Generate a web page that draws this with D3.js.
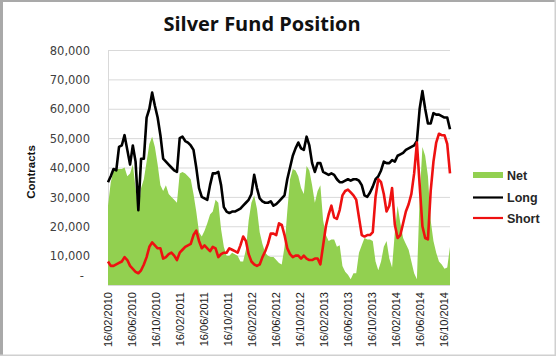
<!DOCTYPE html>
<html><head><meta charset="utf-8">
<script src="https://cdn.jsdelivr.net/npm/d3@7"></script>
<style>html,body{margin:0;padding:0;background:#fff}svg{display:block}</style>
</head><body>
<svg id="c" width="556" height="356"></svg>
<script>
// ---- data (values in thousands of contracts), biweekly from 16/02/2010 ----
const startDate = "16/02/2010";
const endDate = "18/11/2014";
const stepDays = 14;
const net = [27,35,39,39.5,39.5,39.5,40,37,38,41, 33,26,33,36,42,48,50.5,47,41,34,
 32,34,31,30,29,28,38,38.5,38,37, 36,31,25,18,16.5,18.5,21,24,25,29,
 28,19,13,10,10,11,10.5,10,8,8, 12,22,28,30.5,26,18,14,11,10,9.5,
 9.5,8.5,7.5,7,13,25,36,39.5,39,37, 33,31,40.5,39,34,28,32,34,22,17,
 15,15.5,15.5,13,13.5,6.5,4.5,3.5,2,4, 4,11,13.5,16,15.5,15.5,15,8,5,8,
 13,15,9,6,18,27,21,16,14,12, 8,4,2,30,47,44,37,22,15,11, 8,7,5.5,6,13];
const long = [35,37,39.5,39,47,47.5,51,46,41,47.5, 42,25.5,43,43,57,60,65.5,61,57,51,
 43,42,41,40,39,38.5,50,50.5,49,48.5, 47.5,46,40,33,30,29.5,29,34,38,38,
 38.5,34,26.5,25,24.5,25,25,25.5,26,27, 28,29,31,37.5,33,29.5,28.5,28,28,28.5,
 27,27.5,28.5,29.5,30.5,36,40,44,46.5,48.5, 46.5,46,50.5,47.5,41.5,38.5,41.5,41.5,38.5,38,
 37.5,38,37.5,36,35,35,35.5,36,35.5,36, 36,35.5,34,30.5,30,31.5,33.5,36,37,39,
 42,41.5,41.5,42.5,42,44,44.5,45,46,46.5, 47,47.5,49,60,66,60,55,55,58.5,58, 58,57.5,57,57,53];
const short = [8,6.5,6.5,7,7.5,8,9.5,8.5,6.5,5.5, 4.5,4,5,7,9.5,13,14.5,13.5,12.5,12.5,
 9,9.5,10.5,11,10,8.5,11,12,13,13.5, 14,17,18.5,15,12.5,13.5,12.5,11.5,13,12.5,
 9.5,10.5,11,11,12.5,12,11.5,11,13.5,16.5, 15,10.5,8,7,6.5,7,9.5,11.5,14,17.5,
 17.5,17,21,20.5,17,12.5,10.5,9.5,10,10, 9,10,9,8.5,8.5,9,9,7,13.5,20,
 24,27,23,22.5,25.5,30.5,32,32.5,31.5,30.5, 29,23,17,16.5,17,17,18,30,36,35,
 31,25,27,33,20.5,16,17,21,25,27.5, 31,38,48.5,34,20,16,15.5,32,42,48.5, 51.5,51,51,48,38];
const yTicks = [0,10,20,30,40,50,60,70,80];
const xTickLabels = ["16/02/2010","16/06/2010","16/10/2010","16/02/2011","16/06/2011","16/10/2011",
 "16/02/2012","16/06/2012","16/10/2012","16/02/2013","16/06/2013","16/10/2013","16/02/2014","16/06/2014","16/10/2014"];
const seriesNames = ["Net","Long","Short"];
const colors = {Net:"#92D050", Long:"#000000", Short:"#EE1111"};
const title = "Silver Fund Position";
const yTitle = "Contracts";

// ---- build ----
const parse = d3.timeParse("%d/%m/%Y");
const t0 = parse(startDate);
const dates = net.map((_, i) => d3.timeDay.offset(t0, i * stepDays));
const svg = d3.select("#c");

// frame
svg.append("rect").attr("x",0).attr("y",0).attr("width",556).attr("height",356).attr("fill","#fff");
svg.append("rect").attr("x",0).attr("y",0).attr("width",556).attr("height",2).attr("fill","#a9a9a9");
svg.append("rect").attr("x",0).attr("y",0).attr("width",3).attr("height",356).attr("fill","#a9a9a9");
svg.append("rect").attr("x",0).attr("y",354.5).attr("width",556).attr("height",1.5).attr("fill","#d0d0d0");
svg.append("rect").attr("x",554.5).attr("y",0).attr("width",1.5).attr("height",356).attr("fill","#d0d0d0");

const L = 108, R = 450, T = 50, B = 285;
const x = d3.scaleTime().domain([t0, parse(endDate)]).range([L, R]);
const y = d3.scaleLinear().domain([0, 80]).range([B, T]);

// gridlines
svg.append("g").selectAll("line").data(yTicks.filter(d => d > 0)).join("line")
  .attr("x1", L).attr("x2", R).attr("y1", d => y(d) + 0.5).attr("y2", d => y(d) + 0.5)
  .attr("stroke", "#d9d9d9").attr("stroke-width", 1);
svg.append("line").attr("x1", L + 0.5).attr("x2", L + 0.5).attr("y1", T).attr("y2", B)
  .attr("stroke", "#d9d9d9");
svg.append("line").attr("x1", L).attr("x2", R).attr("y1", B + 0.5).attr("y2", B + 0.5)
  .attr("stroke", "#d9d9d9");

// area
const area = d3.area().x((d, i) => x(dates[i])).y0(y(0)).y1(d => y(d));
svg.append("path").datum(net).attr("d", area).attr("fill", colors.Net);

// lines
const line = d3.line().x((d, i) => x(dates[i])).y(d => y(d)).curve(d3.curveLinear);
svg.append("path").datum(long).attr("d", line).attr("fill", "none")
  .attr("stroke", colors.Long).attr("stroke-width", 2.6).attr("stroke-linejoin", "round");
svg.append("path").datum(short).attr("d", line).attr("fill", "none")
  .attr("stroke", colors.Short).attr("stroke-width", 2.6).attr("stroke-linejoin", "round");

// y axis
const fmt = d3.format(",");
const yAxis = svg.append("g").attr("transform", `translate(90,0)`)
  .call(d3.axisLeft(y).tickValues(yTicks).tickSize(0).tickPadding(0)
    .tickFormat(d => d === 0 ? "-" : fmt(d * 1000)));
yAxis.select(".domain").remove();
yAxis.selectAll("text").attr("font-family", "DejaVu Sans").attr("font-size", 11.5)
  .attr("fill", "#404040").attr("dy", "0.36em");
yAxis.selectAll("text").filter(d => d === 0).attr("x", -6).attr("dy", "-0.45em");

// x axis
const xAxis = svg.append("g").attr("transform", `translate(0,${B})`)
  .call(d3.axisBottom(x).tickValues(xTickLabels.map(parse)).tickSize(0)
    .tickFormat(d3.timeFormat("%d/%m/%Y")));
xAxis.select(".domain").remove();
xAxis.selectAll("text").attr("font-family", "Liberation Sans").attr("font-size", 11)
  .attr("fill", "#1a1a1a").attr("text-anchor", "end")
  .attr("transform", "rotate(-90)").attr("x", -7).attr("y", 0).attr("dy", "0.36em");

// title
svg.append("text").attr("x", 262).attr("y", 31).attr("text-anchor", "middle")
  .attr("font-family", "Open Sans").attr("font-weight", "bold").attr("font-size", 20)
  .attr("fill", "#111").text(title);
svg.append("text").attr("transform", "translate(35,172) rotate(-90)").attr("text-anchor", "middle")
  .attr("font-family", "Liberation Sans").attr("font-weight", "bold").attr("font-size", 11.5)
  .attr("fill", "#111").text(yTitle);

// legend
const lg = svg.append("g");
const ly = [175, 197.5, 218];
seriesNames.forEach((s, i) => {
  if (s === "Net") {
    lg.append("rect").attr("x", 473).attr("y", ly[i] - 3).attr("width", 30).attr("height", 6).attr("fill", colors[s]);
  } else {
    lg.append("line").attr("x1", 473).attr("x2", 503).attr("y1", ly[i]).attr("y2", ly[i])
      .attr("stroke", colors[s]).attr("stroke-width", 2.2);
  }
  lg.append("text").attr("x", 507).attr("y", ly[i]).attr("dy", "0.36em")
    .attr("font-family", "Liberation Sans").attr("font-weight", "bold").attr("font-size", 12.5)
    .attr("fill", "#262626").text(s);
});
</script>
</body></html>
